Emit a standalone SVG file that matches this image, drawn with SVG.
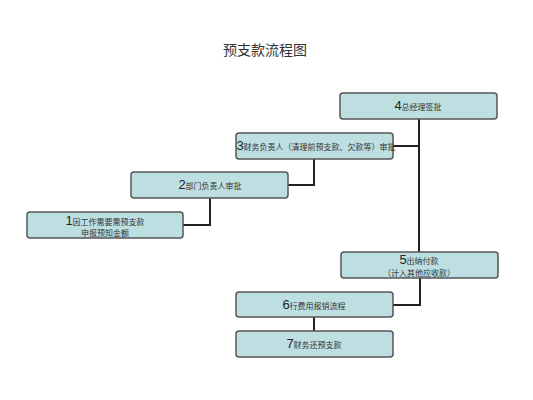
<svg xmlns="http://www.w3.org/2000/svg" width="533" height="400" viewBox="0 0 533 400">
<style>
.box{fill:#bddfe2;stroke:#555;stroke-width:1.5}
.t{font-family:"Noto Sans CJK SC",sans-serif;font-size:8px;fill:#333;text-anchor:middle}
.n{font-family:"Liberation Sans",Arial,sans-serif;font-size:13px;fill:#222}
.c{fill:none;stroke:#222;stroke-width:2}
.title{font-family:"Noto Sans CJK SC",sans-serif;font-size:14px;fill:#333;text-anchor:middle}
</style>
<rect width="533" height="400" fill="#fff"/>
<text class="title" x="265" y="55">预支款流程图</text>
<g id="connectors">
<polyline class="c" points="419,119 419,252"/>
<polyline class="c" points="393,146 419,146"/>
<polyline class="c" points="288,185 314,185 314,159"/>
<polyline class="c" points="183,225 210,225 210,198"/>
<polyline class="c" points="420,278 420,305 393,305"/>
<polyline class="c" points="314,317 314,331"/>
</g>
<g id="node4">
<rect class="box" x="340" y="93" width="157" height="26" rx="3"/>
<text class="t" x="418" y="110"><tspan class="n">4</tspan>总经理签批</text>
</g>
<g id="node3">
<rect class="box" x="236" y="133" width="157" height="26" rx="3"/>
<text class="t" x="316" y="150"><tspan class="n">3</tspan>财务负责人（清理前预支款、欠款等）审批</text>
</g>
<g id="node2">
<rect class="box" x="131" y="172" width="157" height="26" rx="3"/>
<text class="t" x="210" y="189"><tspan class="n">2</tspan>部门负责人审批</text>
</g>
<g id="node1">
<rect class="box" x="27" y="212" width="156" height="26" rx="3"/>
<text class="t" x="105" y="224.5"><tspan class="n">1</tspan>因工作需要需预支款</text>
<text class="t" x="105" y="236">申报预知金额</text>
</g>
<g id="node5">
<rect class="box" x="341" y="252" width="157" height="26" rx="3"/>
<text class="t" x="419" y="264"><tspan class="n">5</tspan>出纳付款</text>
<text class="t" x="419" y="276">（计入其他应收款）</text>
</g>
<g id="node6">
<rect class="box" x="236" y="292" width="157" height="25" rx="3"/>
<text class="t" x="314" y="309"><tspan class="n">6</tspan>行费用报销流程</text>
</g>
<g id="node7">
<rect class="box" x="236" y="331" width="157" height="26" rx="3"/>
<text class="t" x="314" y="348"><tspan class="n">7</tspan>财务还预支款</text>
</g>
</svg>
